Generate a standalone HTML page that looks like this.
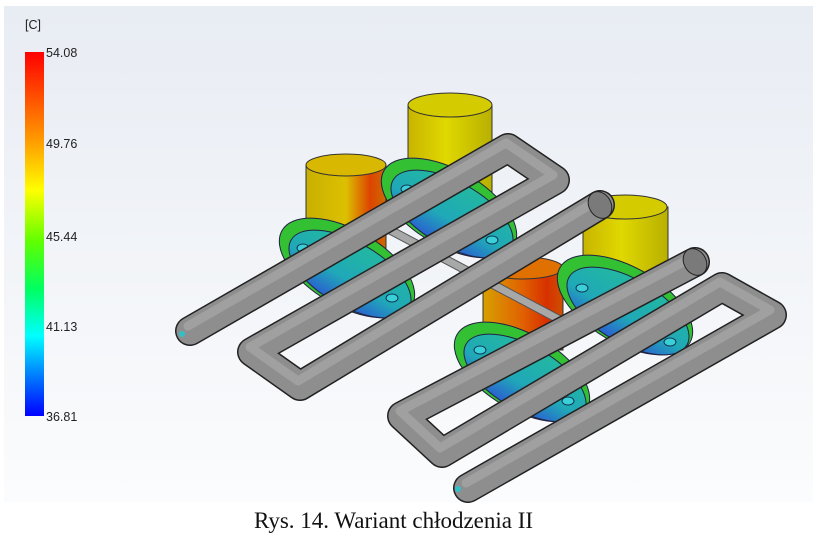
<!DOCTYPE html>
<html><head><meta charset="utf-8"><style>
html,body{margin:0;padding:0;background:#fff;width:817px;height:544px;overflow:hidden}
.cap{position:absolute;left:-15px;width:817px;top:508px;text-align:center;font:23px "Liberation Serif",serif;color:#111}
.lb{position:absolute;font:12.5px "Liberation Sans",sans-serif;color:#222}
</style></head><body>
<svg width="817" height="544" style="position:absolute;left:0;top:0">
<defs>
<linearGradient id="bg" x1="0" y1="0" x2="0" y2="1"><stop offset="0" stop-color="#e8ecf3"/><stop offset="1" stop-color="#fbfcfd"/></linearGradient>
<linearGradient id="cb" x1="0" y1="0" x2="0" y2="1">
<stop offset="0" stop-color="#ff0000"/><stop offset="0.25" stop-color="#ffa000"/><stop offset="0.38" stop-color="#ffff00"/><stop offset="0.52" stop-color="#60ff00"/><stop offset="0.65" stop-color="#00ff60"/><stop offset="0.78" stop-color="#00ffff"/><stop offset="0.9" stop-color="#0070ff"/><stop offset="1" stop-color="#0000ff"/></linearGradient>
<linearGradient id="cy" x1="0" y1="0" x2="1" y2="0"><stop offset="0" stop-color="#c8b400"/><stop offset="0.45" stop-color="#e0d800"/><stop offset="1" stop-color="#b8b000"/></linearGradient>
<linearGradient id="cyL" x1="0" y1="0" x2="1" y2="0"><stop offset="0" stop-color="#c8b000"/><stop offset="0.5" stop-color="#dcc000"/><stop offset="0.8" stop-color="#dd4400"/><stop offset="1" stop-color="#cc6a00"/></linearGradient>
<linearGradient id="cyC" x1="0" y1="0" x2="1" y2="0"><stop offset="0" stop-color="#d8a000"/><stop offset="0.5" stop-color="#e06000"/><stop offset="0.8" stop-color="#d83000"/><stop offset="1" stop-color="#cc5000"/></linearGradient>
<linearGradient id="pl" x1="0" y1="0" x2="0" y2="1"><stop offset="0" stop-color="#22b8a0"/><stop offset="0.6" stop-color="#20a8b8"/><stop offset="1" stop-color="#2a60d0"/></linearGradient>
</defs>
<rect x="4" y="6" width="809" height="496" fill="url(#bg)"/>
<rect x="25" y="52" width="19" height="364" fill="url(#cb)"/>
<g stroke="#333" stroke-width="1">
<path d="M408 105 L408 200 L492 200 L492 105 Z" fill="url(#cy)"/><ellipse cx="450" cy="105" rx="42" ry="12" fill="#d4cc00"/>
<path d="M306 165 L306 250 L386 250 L386 165 Z" fill="url(#cyL)"/><ellipse cx="346" cy="165" rx="40" ry="11" fill="#d8b800"/>
<path d="M583 207 L583 300 L668 300 L668 207 Z" fill="url(#cy)"/><ellipse cx="625" cy="207" rx="42" ry="12" fill="#d4cc00"/>
<path d="M483 268 L483 350 L563 350 L563 268 Z" fill="url(#cyC)"/><ellipse cx="523" cy="268" rx="40" ry="11" fill="#e07000"/>
</g>
<g stroke="#224" stroke-width="1">
<ellipse cx="449" cy="208" rx="75" ry="38" transform="rotate(30 449 208)" fill="#33c033"/>
<ellipse cx="452" cy="214" rx="68" ry="32" transform="rotate(30 452 214)" fill="url(#pl)"/>
<ellipse cx="347" cy="268" rx="75" ry="38" transform="rotate(30 347 268)" fill="#33c033"/>
<ellipse cx="350" cy="274" rx="68" ry="32" transform="rotate(30 350 274)" fill="url(#pl)"/>
<ellipse cx="625" cy="305" rx="75" ry="38" transform="rotate(30 625 305)" fill="#33c033"/>
<ellipse cx="628" cy="311" rx="68" ry="32" transform="rotate(30 628 311)" fill="url(#pl)"/>
<ellipse cx="522" cy="372" rx="75" ry="38" transform="rotate(30 522 372)" fill="#33c033"/>
<ellipse cx="525" cy="378" rx="68" ry="32" transform="rotate(30 525 378)" fill="url(#pl)"/>
</g>
<g fill="#3ad0d8" stroke="#135" stroke-width="1">
<ellipse cx="407" cy="189" rx="6" ry="4"/><ellipse cx="492" cy="240" rx="6" ry="4"/>
<ellipse cx="303" cy="248" rx="6" ry="4"/><ellipse cx="392" cy="298" rx="6" ry="4"/>
<ellipse cx="582" cy="288" rx="6" ry="4"/><ellipse cx="670" cy="342" rx="6" ry="4"/>
<ellipse cx="480" cy="350" rx="6" ry="4"/><ellipse cx="568" cy="401" rx="6" ry="4"/>
</g>
<g stroke="#555" stroke-width="9" stroke-linecap="round"><line x1="390" y1="230" x2="560" y2="320"/></g>
<g stroke="#a8a8a8" stroke-width="7" stroke-linecap="round"><line x1="390" y1="230" x2="560" y2="320"/></g>
<g fill="none" stroke-linecap="round" stroke-linejoin="round">
<g stroke="#222" stroke-width="30">
<polyline points="190,331 508,148 555,180 252,352 300,386 600,205"/>
<polyline points="695,262 402,416 442,453 722,287 772,315 468,488"/>
</g>
<g stroke="#8e8e8e" stroke-width="27">
<polyline points="190,331 508,148 555,180 252,352 300,386 600,205"/>
<polyline points="695,262 402,416 442,453 722,287 772,315 468,488"/>
</g>
<g stroke="#a0a0a0" stroke-width="9">
<polyline points="188,326 506,143 553,175 250,347 298,381 598,200"/>
<polyline points="693,257 400,411 440,448 720,282 770,310 466,483"/>
</g>
</g>
<g fill="#7a7a7a" stroke="#222"><ellipse cx="600" cy="205" rx="11" ry="14" transform="rotate(-30 600 205)"/><ellipse cx="695" cy="262" rx="11" ry="14" transform="rotate(-30 695 262)"/></g>
<g fill="#30c0c8"><circle cx="182" cy="334" r="3"/><circle cx="458" cy="489" r="3"/></g>
</svg>
<div class="lb" style="left:25px;top:18px">[C]</div>
<div class="lb" style="left:46px;top:46px">54.08</div>
<div class="lb" style="left:46px;top:137px">49.76</div>
<div class="lb" style="left:46px;top:230px">45.44</div>
<div class="lb" style="left:46px;top:320px">41.13</div>
<div class="lb" style="left:46px;top:410px">36.81</div>
<div class="cap">Rys. 14. Wariant chłodzenia II</div>
</body></html>
